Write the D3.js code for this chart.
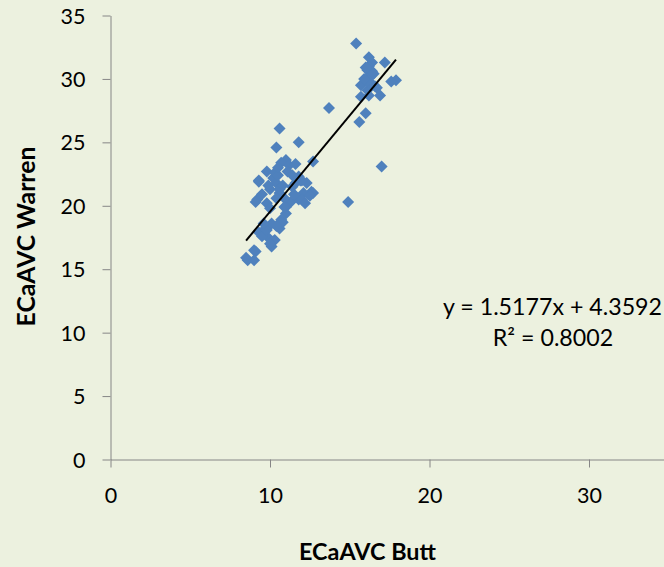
<!DOCTYPE html>
<html>
<head>
<meta charset="utf-8">
<script src="https://cdn.jsdelivr.net/npm/d3@7"></script>
<style>
  html, body { margin: 0; padding: 0; background: #ECF1DF; }
  svg { display: block; }
</style>
</head>
<body>
<svg id="chart" width="664" height="567"></svg>
<script>
// ---- data ----
const butt = [
  15.4, 16.2, 16.4, 17.2, 16.2, 16.1, 16.4, 16.2, 17.9, 17.6, 15.7, 16.4, 16.1, 16.7, 16.9, 15.7, 16.2, 16.0, 15.6,
  16.0, 16.3, 16.1, 16.6, 16.5, 15.9,
  13.7, 17.0, 14.9, 11.8, 10.6, 10.4, 12.7,
  11.0, 10.7, 11.2, 9.8, 9.3, 10.2, 11.1, 11.8, 10.4, 10.0, 11.6, 12.3, 12.6, 12.1, 10.6,
  9.2, 9.8, 11.3, 11.0, 11.8, 10.0, 9.5, 10.6, 12.7, 12.0, 11.0, 10.7, 10.1, 9.7, 9.3,
  10.6, 10.8, 9.8, 9.5, 10.3, 10.2, 10.1, 9.8, 9.0, 9.1, 8.5, 8.6, 9.0, 9.1, 9.3,
  10.3, 11.4, 12.5, 11.9, 10.9, 10.5,
  10.4, 11.5, 12.2, 10.8, 11.4, 9.9, 10.5, 11.6, 12.0, 10.9, 10.4, 10.0, 9.6
];
const warren = [
  32.8, 31.7, 31.3, 31.3, 31.0, 30.7, 30.6, 30.2, 29.9, 29.8, 29.5, 29.6, 29.1, 29.3, 28.7, 28.6, 28.7, 27.3, 26.6,
  30.9, 30.2, 29.8, 29.4, 30.4, 30.0,
  27.7, 23.1, 20.3, 25.0, 26.1, 24.6, 23.5,
  23.6, 23.4, 23.2, 22.7, 22.0, 22.2, 22.7, 22.3, 21.8, 21.3, 21.8, 21.8, 21.1, 21.0, 21.0,
  20.5, 20.2, 20.3, 19.9, 20.5, 19.8, 20.9, 21.3, 21.0, 20.5, 19.4, 18.9, 18.6, 18.2, 17.9,
  18.2, 18.7, 17.6, 17.6, 17.3, 17.2, 16.8, 18.1, 16.5, 16.4, 15.9, 15.7, 15.7, 20.3, 21.9,
  22.6, 21.5, 20.8, 22.0, 20.6, 22.4,
  20.6, 20.9, 20.2, 21.6, 22.4, 21.6, 23.0, 23.3, 22.0, 19.9, 18.4, 17.0, 18.6
];
const xTicks = [0, 10, 20, 30];
const yTicks = [0, 5, 10, 15, 20, 25, 30, 35];
const trendSlope = 1.5177;
const trendIntercept = 4.3592;
const rSquared = "0.8002";
const xTitle = "ECaAVC Butt";
const yTitle = "ECaAVC Warren";

// ---- layout ----
const svg = d3.select("#chart");
const W = 664, H = 567;
svg.append("rect").attr("width", W).attr("height", H).attr("fill", "#ECF1DF");

const x = d3.scaleLinear().domain([0, 35]).range([110.5, 110.5 + 35 * 15.95]);
const y = d3.scaleLinear().domain([0, 35]).range([459.5, 15.5]);

const axisColor = "#868686";
const font = "Lato, 'Open Sans', sans-serif";

// y axis
const gy = svg.append("g").attr("transform", `translate(${x(0)},0)`)
  .call(d3.axisLeft(y).tickValues(yTicks).tickSize(8).tickSizeOuter(0).tickPadding(17).tickFormat(d3.format("d")));
gy.select(".domain").attr("stroke", axisColor);
gy.selectAll(".tick line").attr("stroke", axisColor);
gy.selectAll(".tick text").attr("font-family", font).attr("font-size", 21.5).attr("fill", "#000").attr("dy", "0.35em");

// x axis
const gx = svg.append("g").attr("transform", `translate(0,${y(0)})`)
  .call(d3.axisBottom(x).tickValues(xTicks).tickSize(8).tickSizeOuter(0).tickFormat(d3.format("d")));
gx.select(".domain").attr("stroke", axisColor);
gx.selectAll(".tick line").attr("stroke", axisColor);
gx.selectAll(".tick text").attr("font-family", font).attr("font-size", 21.5).attr("fill", "#000")
  .attr("y", 43).attr("dy", 0);

// points
const pts = butt.map((b, i) => ({ b, w: warren[i] }));
const sym = d3.symbol().type(d3.symbolSquare).size(72);
svg.append("g").selectAll("path").data(pts).join("path")
  .attr("d", sym)
  .attr("transform", d => `translate(${x(d.b)},${y(d.w)}) rotate(45)`)
  .attr("fill", "#4F81BD");

// trendline
const ext = d3.extent(butt);
svg.append("line")
  .attr("x1", x(ext[0])).attr("y1", y(trendSlope * ext[0] + trendIntercept))
  .attr("x2", x(ext[1])).attr("y2", y(trendSlope * ext[1] + trendIntercept))
  .attr("stroke", "#000").attr("stroke-width", 2);

// fit helper
function fit(sel, target) {
  let fs = +sel.attr("font-size");
  const len = sel.node().getComputedTextLength();
  if (len > 0) sel.attr("font-size", (fs * target / len).toFixed(2));
}

// equation label
const eq = svg.append("text").attr("x", 552.5).attr("y", 315).attr("text-anchor", "middle")
  .attr("font-family", font).attr("font-size", 24).attr("fill", "#000")
  .text(`y = ${trendSlope}x + ${trendIntercept}`);
fit(eq, 219);
const r2 = svg.append("text").attr("x", 553).attr("y", 345.5).attr("text-anchor", "middle")
  .attr("font-family", font).attr("font-size", eq.attr("font-size")).attr("fill", "#000")
  .text(`R² = ${rSquared}`);

// axis titles
const xt = svg.append("text").attr("x", 367.5).attr("y", 560).attr("text-anchor", "middle")
  .attr("font-family", font).attr("font-weight", "bold").attr("font-size", 22).attr("fill", "#000")
  .text(xTitle);
fit(xt, 137);
const yt = svg.append("text").attr("transform", "translate(35,236.5) rotate(-90)").attr("text-anchor", "middle")
  .attr("font-family", font).attr("font-weight", "bold").attr("font-size", 22).attr("fill", "#000")
  .text(yTitle);
fit(yt, 180);
</script>
</body>
</html>
